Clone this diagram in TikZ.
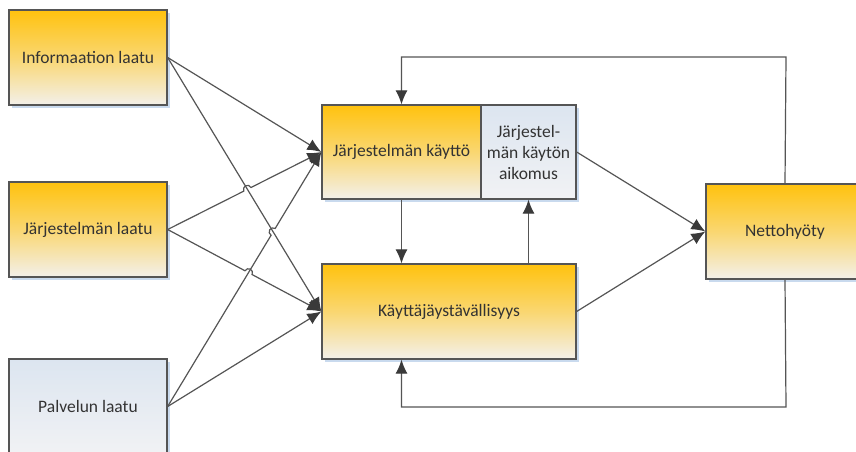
\documentclass[tikz,border=0pt]{standalone}
\usepackage{fontspec}
\setmainfont{Carlito}
\usetikzlibrary{arrows.meta,calc,shadows}
\definecolor{gold}{HTML}{FFC20E}
\definecolor{cream}{HTML}{F3F0EA}
\definecolor{bluetop}{HTML}{DCE5F0}
\definecolor{bluebot}{HTML}{F1F2F4}
\definecolor{shadowblue}{HTML}{C9DAEE}
\definecolor{edge}{HTML}{555555}
\definecolor{tipc}{HTML}{3A3A3A}
\definecolor{txt}{HTML}{333333}
\tikzset{
  box/.style={draw=edge, line width=1.3pt, minimum width=158pt, minimum height=95pt,
    inner sep=0pt, text=txt, font=\fontsize{17.5}{21}\selectfont, align=center,
    general shadow={fill=shadowblue, shadow xshift=3pt, shadow yshift=-3pt}},
  goldbox/.style={box, top color=gold, bottom color=cream, middle color=gold!55!cream},
  bluebox/.style={box, top color=bluetop, bottom color=bluebot},
  arr/.style={draw=edge, line width=1.2pt, -{Latex[length=14pt,width=12pt,color=tipc]}},
  hop/.style={arr}
}
\begin{document}
\begin{tikzpicture}[x=1pt,y=-1pt]
\useasboundingbox (0,0) rectangle (856,452);
\clip (0,0) rectangle (856,452);
\fill[white] (0,0) rectangle (856,452);

\coordinate (ftop) at (786,57);
\coordinate (fbot) at (786,407);

\node[goldbox] (info) at (88,57.5) {Informaation laatu};
\node[goldbox] (jlaatu) at (88,229.5) {Järjestelmän laatu};
\node[bluebox] (palvelu) at (88,406.5) {Palvelun laatu};
\node[goldbox, minimum width=159pt, minimum height=94pt] (kaytto) at (401.5,152) {Järjestelmän käyttö};
\node[bluebox, minimum width=95pt, minimum height=94pt] (aikomus) at (528.5,152) {Järjestel-\\män käytön\\aikomus};
\node[goldbox, minimum width=254pt] (kayttaja) at (449,311.5) {Käyttäjäystävällisyys};
\node[goldbox] (netto) at (785,231.5) {Nettohyöty};

% crossings
\coordinate (x12) at (intersection of info.east--kayttaja.west and jlaatu.east--kaytto.west);
\coordinate (x13) at (intersection of info.east--kayttaja.west and palvelu.east--kaytto.west);
\coordinate (x34) at (intersection of palvelu.east--kaytto.west and jlaatu.east--kayttaja.west);

% straight connectors
\draw[arr] (info.east) -- (kaytto.west);
\draw[arr] (info.east) -- (kayttaja.west);
\draw[arr] (palvelu.east) -- (kayttaja.west);

% connectors with line hops
\draw[hop] let \p1=(jlaatu.east), \p2=(kaytto.west), \p3=(x12),
  \n1={atan2(\y2-\y1,\x2-\x1)} in
  (\p1) -- ($(\p3)+({\n1+180}:4pt)$) arc[start angle=\n1+180, end angle=\n1, radius=4pt] -- (\p2);
\draw[hop] let \p1=(palvelu.east), \p2=(kaytto.west), \p3=(x13),
  \n1={atan2(\y2-\y1,\x2-\x1)} in
  (\p1) -- ($(\p3)+({\n1+180}:4pt)$) arc[start angle=\n1+180, end angle=\n1, radius=4pt] -- (\p2);
\draw[hop] let \p1=(jlaatu.east), \p2=(kayttaja.west), \p3=(x34),
  \n1={atan2(\y2-\y1,\x2-\x1)} in
  (\p1) -- ($(\p3)+({\n1+180}:4pt)$) arc[start angle=\n1+180, end angle=\n1, radius=4pt] -- (\p2);

% middle connectors
\draw[arr] (kaytto.south) -- (kaytto.south |- kayttaja.north);
\draw[arr] (aikomus.south |- kayttaja.north) -- (aikomus.south);
\draw[arr] (aikomus.east) -- (netto.west);
\draw[arr] (kayttaja.east) -- (netto.west);

% feedback
\draw[arr] (netto.north) -- (ftop) -| (kaytto.north);
\draw[arr] (netto.south) -- (fbot) -| (kaytto.south |- kayttaja.south);
\end{tikzpicture}
\end{document}
